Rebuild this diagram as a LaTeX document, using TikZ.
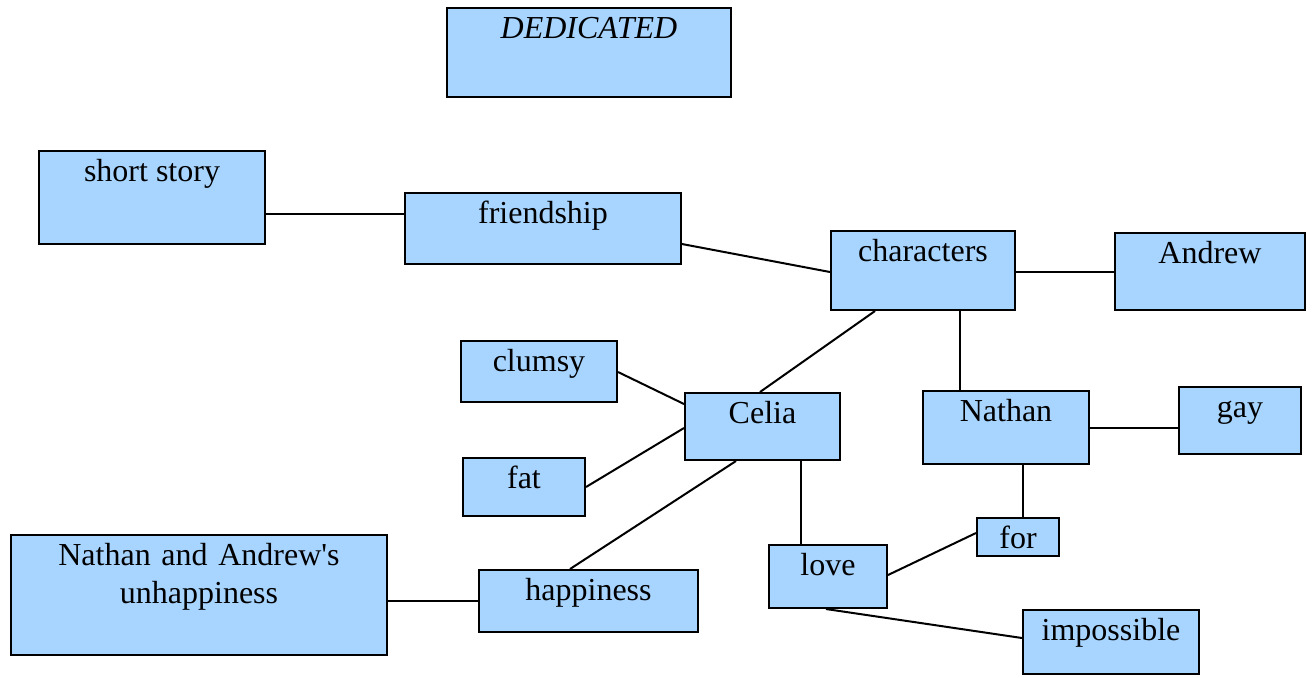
\documentclass[tikz,border=0pt]{standalone}
\usepackage{fontspec}
\setmainfont{Liberation Serif}
\definecolor{conceptblue}{HTML}{A8D5FF}
\begin{document}
\begin{tikzpicture}[
		x = 0.5pt, y = -0.5pt, % one unit is one pixel of the map
		semithick, % line style
		line width = 1pt,
		concept/.style = {draw, fill=conceptblue, inner sep=0pt, text height=15pt},
		font=\fontsize{16}{19}\selectfont
		]
		
		\useasboundingbox (0,0) rectangle (1316,677);
		
		\node[concept, minimum width=142pt, text depth=29.5pt] (dedicated) at (589,52.5) {\itshape DEDICATED};
		\node[concept, minimum width=113pt, text depth=31.5pt] (short) at (152,197.5) {short story};
		\node[concept, minimum width=138pt, text depth=20.5pt] (friend) at (543,228.5) {friendship};
		\node[concept, minimum width=92pt, text depth=24.5pt] (chars) at (923,270.5) {characters};
		\node[concept, minimum width=95pt, text depth=23.5pt] (andrew) at (1210,271.5) {Andrew};
		\node[concept, minimum width=78pt, text depth=15.5pt] (clumsy) at (539,371.5) {clumsy};
		\node[concept, minimum width=77.5pt, text depth=18.5pt] (celia) at (762.5,426.5) {Celia};
		\node[concept, minimum width=83pt, text depth=21.5pt] (nathan) at (1006,427.5) {Nathan};
		\node[concept, minimum width=61pt, text depth=18.5pt] (gay) at (1240,420.5) {gay};
		\node[concept, minimum width=61pt, text depth=14pt] (fat) at (524,487) {fat};
		\node[concept, minimum width=41pt, text depth=4pt] (for) at (1018,537) {for};
		\node[concept, minimum width=59pt, text depth=16.5pt] (love) at (828,576.5) {love};
		\node[concept, text width=188pt, align=center, text depth=45pt] (unhappy) at (199,595) {Nathan and Andrew\textquotesingle s\\unhappiness};
		\node[concept, minimum width=109.5pt, text depth=16pt] (happy) at (588.5,601) {happiness};
		\node[concept, minimum width=88pt, text depth=17pt] (impossible) at (1111,642) {impossible};
		
		\draw (short.east |- 0,214) -- (friend.west |- 0,214);
		\draw (friend.east |- 0,244) -- (chars.west |- 0,272);
		\draw (chars.east |- 0,272) -- (andrew.west |- 0,272);
		\draw (chars.south -| 875,0) -- (celia.north -| 760,0);
		\draw (chars.south -| 960,0) -- (nathan.north -| 960,0);
		\draw (clumsy.east |- 0,372) -- (celia.west |- 0,404);
		\draw (fat.east |- 0,487) -- (celia.west |- 0,428);
		\draw (celia.south -| 736,0) -- (happy.north -| 570,0);
		\draw (celia.south -| 801,0) -- (love.north -| 801,0);
		\draw (nathan.east |- 0,428) -- (gay.west |- 0,428);
		\draw (nathan.south -| 1023,0) -- (for.north -| 1023,0);
		\draw (love.east |- 0,575) -- (for.west |- 0,533);
		\draw (love.south -| 826,0) -- (impossible.west |- 0,638);
		\draw (unhappy.east |- 0,601) -- (happy.west |- 0,601);
		
	\end{tikzpicture}
\end{document}
